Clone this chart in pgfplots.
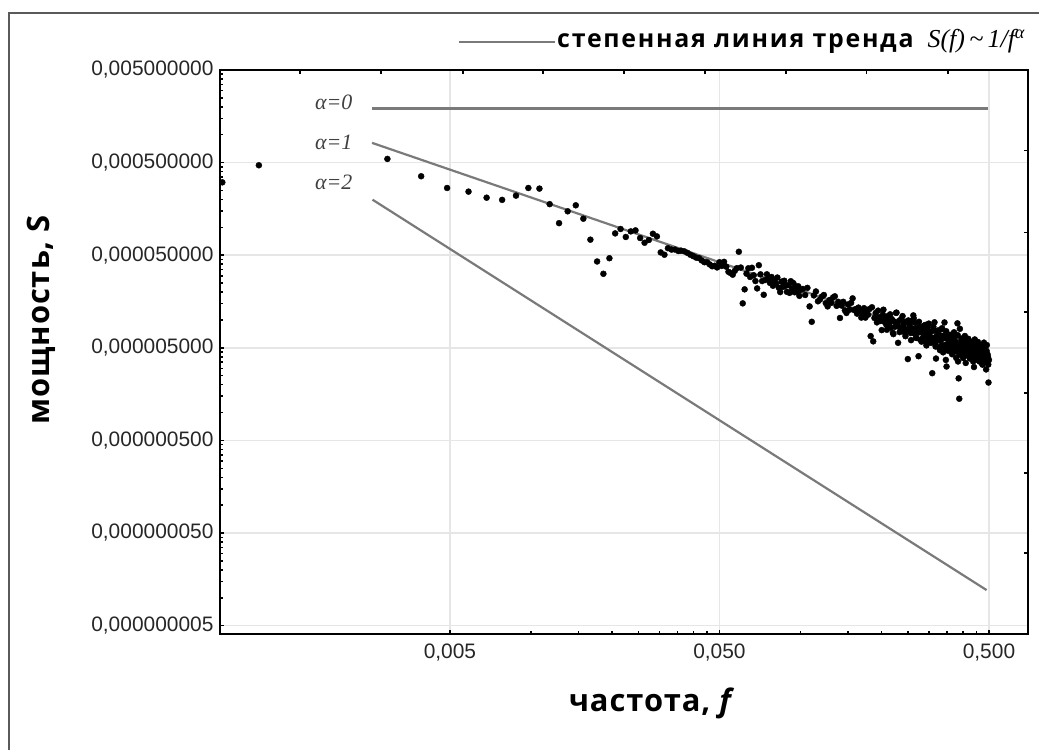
\documentclass[border=0pt]{standalone}
\usepackage{fontspec}
\usepackage{pgfplots}
\usepackage{pgfplotstable}
\pgfplotsset{compat=1.18}
\setmainfont{Liberation Sans}
\newfontfamily\labfont{Open Sans}[LetterSpace=3]
\newfontfamily\legfont{Open Sans}[LetterSpace=7]
\newfontfamily\tnr{Liberation Serif}
\definecolor{trend}{RGB}{122,122,122}
\definecolor{gridc}{RGB}{230,230,230}
\definecolor{framec}{RGB}{90,90,90}

\pgfplotstableread{
f S
0.000715 3.06e-4
0.000977 4.68e-4
0.00293 5.48e-4
0.00391 3.56e-4
0.00488 2.66e-4
0.00586 2.43e-4
0.00684 2.09e-4
0.00781 1.98e-4
0.00879 2.20e-4
0.00977 2.66e-4
0.01074 2.62e-4
0.01172 1.78e-4
0.0127 1.11e-4
0.01367 1.49e-4
0.01465 1.73e-4
0.01563 1.24e-4
0.0166 7.36e-5
0.01758 4.28e-5
0.01855 3.15e-5
0.01953 4.64e-5
0.02051 8.60e-5
0.02148 9.60e-5
0.02246 7.87e-5
0.02344 9.04e-5
0.02441 9.27e-5
0.02539 7.67e-5
0.02637 6.82e-5
0.02734 7.30e-5
0.02832 8.53e-5
0.0293 7.98e-5
0.03027 5.36e-5
0.03125 5.06e-5
0.0322 5.95e-5
0.0332 5.75e-5
0.0342 5.75e-5
0.0352 5.55e-5
0.036 5.60e-5
0.037 5.51e-5
0.038 5.31e-5
0.039 5.06e-5
0.040 4.88e-5
0.041 4.71e-5
0.042 4.65e-5
0.043 4.39e-5
0.044 4.20e-5
0.045 4.20e-5
0.046 3.98e-5
0.047 3.80e-5
0.048 3.85e-5
0.049 3.69e-5
0.050 4.20e-5
0.051 3.83e-5
0.052 4.24e-5
0.053 3.76e-5
0.054 3.31e-5
0.055 3.21e-5
0.056 3.08e-5
0.057 3.39e-5
0.058 3.62e-5
0.059 5.45e-5
0.060 3.68e-5
0.061 1.51e-5
0.062 2.14e-5
0.063 3.16e-5
0.064 3.61e-5
0.065 2.91e-5
0.066 3.66e-5
0.067 3.04e-5
0.068 2.63e-5
0.069 2.19e-5
0.070 3.90e-5
0.071 3.11e-5
0.072 2.63e-5
0.073 1.87e-5
0.074 2.70e-5
0.075 3.11e-5
0.076 2.76e-5
0.077 2.51e-5
0.078 2.91e-5
0.079 2.34e-5
0.080 2.63e-5
0.081 2.46e-5
0.082 2.87e-5
0.083 2.23e-5
0.084 2.00e-5
0.085 2.59e-5
0.086 2.27e-5
0.087 2.65e-5
0.088 2.34e-5
0.089 2.01e-5
0.090 2.38e-5
0.091 1.96e-5
0.092 2.62e-5
0.093 2.17e-5
0.094 2.50e-5
0.095 1.99e-5
0.096 2.30e-5
0.097 2.03e-5
0.098 2.31e-5
0.099 1.82e-5
0.100 2.10e-5
0.102 21.6e-6
0.104 18.6e-6
0.106 22.2e-6
0.108 14.0e-6
0.110 9.55e-6
0.112 18.4e-6
0.114 20.3e-6
0.116 15.9e-6
0.118 16.6e-6
0.120 17.9e-6
0.122 18.6e-6
0.124 15.2e-6
0.126 14.0e-6
0.128 16.4e-6
0.130 15.3e-6
0.132 17.5e-6
0.134 18.0e-6
0.136 14.2e-6
0.138 15.7e-6
0.140 10.5e-6
0.142 14.3e-6
0.144 15.7e-6
0.146 12.7e-6
0.148 11.9e-6
0.150 14.7e-6
0.152 12.9e-6
0.154 15.3e-6
0.156 17.1e-6
0.158 12.8e-6
0.160 13.1e-6
0.162 11.7e-6
0.164 13.6e-6
0.166 12.9e-6
0.168 10.6e-6
0.170 11.7e-6
0.172 13.4e-6
0.174 10.6e-6
0.176 12.5e-6
0.178 11.4e-6
0.180 13.1e-6
0.182 6.69e-6
0.184 13.7e-6
0.186 5.87e-6
0.188 10.5e-6
0.190 11.9e-6
0.192 9.41e-6
0.194 12.6e-6
0.196 10.7e-6
0.198 9.76e-6
0.200 7.77e-6
0.202 11.4e-6
0.204 9.57e-6
0.206 10.6e-6
0.208 8.89e-6
0.210 10.0e-6
0.212 11.1e-6
0.214 9.32e-6
0.216 8.26e-6
0.218 10.2e-6
0.220 7.26e-6
0.222 9.65e-6
0.224 8.44e-6
0.226 11.9e-6
0.228 9.03e-6
0.230 5.66e-6
0.232 9.77e-6
0.234 8.25e-6
0.236 10.2e-6
0.238 7.67e-6
0.240 8.49e-6
0.242 9.11e-6
0.244 7.23e-6
0.246 9.56e-6
0.248 7.88e-6
0.250 3.78e-6
0.252 7.91e-6
0.254 8.93e-6
0.256 7.22e-6
0.258 9.77e-6
0.260 8.08e-6
0.262 11.2e-6
0.264 7.16e-6
0.266 9.31e-6
0.268 6.43e-6
0.270 8.17e-6
0.272 7.26e-6
0.274 4.06e-6
0.276 8.37e-6
0.278 6.12e-6
0.280 7.35e-6
0.282 8.34e-6
0.284 6.36e-6
0.286 7.49e-6
0.288 6.71e-6
0.290 8.83e-6
0.292 5.75e-6
0.294 7.57e-6
0.296 8.22e-6
0.298 6.35e-6
0.300 6.79e-6
0.302 6.12e-6
0.304 7.46e-6
0.306 6.45e-6
0.308 2.66e-6
0.310 6.09e-6
0.312 7.67e-6
0.314 9.43e-6
0.316 5.59e-6
0.318 3.83e-6
0.320 6.76e-6
0.322 6.00e-6
0.324 7.65e-6
0.326 5.09e-6
0.328 6.78e-6
0.330 6.04e-6
0.332 7.91e-6
0.334 5.35e-6
0.336 6.25e-6
0.338 4.47e-6
0.340 6.80e-6
0.342 9.39e-6
0.344 5.37e-6
0.346 3.70e-6
0.348 3.14e-6
0.350 6.30e-6
0.352 5.55e-6
0.354 6.88e-6
0.356 4.84e-6
0.358 5.64e-6
0.360 6.30e-6
0.362 5.22e-6
0.364 6.92e-6
0.366 4.48e-6
0.368 5.82e-6
0.370 5.34e-6
0.372 6.33e-6
0.374 4.82e-6
0.376 5.81e-6
0.378 3.89e-6
0.380 5.36e-6
0.382 9.19e-6
0.384 3.56e-6
0.386 2.34e-6
0.388 1.41e-6
0.390 8.02e-6
0.392 4.93e-6
0.394 5.86e-6
0.396 4.45e-6
0.398 5.28e-6
0.400 6.20e-6
0.402 4.59e-6
0.404 5.51e-6
0.406 4.91e-6
0.408 4.12e-6
0.410 3.43e-6
0.412 5.81e-6
0.414 4.61e-6
0.416 5.15e-6
0.418 4.32e-6
0.420 6.10e-6
0.422 4.68e-6
0.424 5.35e-6
0.426 3.85e-6
0.428 4.91e-6
0.430 4.39e-6
0.432 5.64e-6
0.434 4.07e-6
0.436 5.06e-6
0.438 4.60e-6
0.440 3.10e-6
0.442 5.23e-6
0.444 4.16e-6
0.446 4.80e-6
0.448 4.36e-6
0.450 5.14e-6
0.452 3.72e-6
0.454 5.56e-6
0.456 4.24e-6
0.458 4.77e-6
0.460 3.93e-6
0.462 4.55e-6
0.464 5.07e-6
0.466 3.74e-6
0.468 4.31e-6
0.470 4.74e-6
0.472 3.38e-6
0.474 5.05e-6
0.476 3.97e-6
0.478 4.39e-6
0.480 4.99e-6
0.482 3.84e-6
0.484 4.56e-6
0.486 3.97e-6
0.488 2.92e-6
0.490 4.63e-6
0.492 3.63e-6
0.494 4.25e-6
0.496 3.98e-6
0.498 2.11e-6
0.500 3.70e-6
0.203 12.9e-6
0.209 7.84e-6
0.215 11.5e-6
0.221 7.03e-6
0.227 12.0e-6
0.233 7.39e-6
0.239 11.0e-6
0.245 6.68e-6
0.251 9.88e-6
0.257 6.05e-6
0.263 10.4e-6
0.269 6.40e-6
0.275 9.55e-6
0.281 5.83e-6
0.287 8.64e-6
0.293 5.31e-6
0.299 9.13e-6
0.305 5.65e-6
0.311 8.44e-6
0.317 5.16e-6
0.323 7.67e-6
0.329 4.72e-6
0.335 8.15e-6
0.341 5.05e-6
0.347 7.56e-6
0.353 4.64e-6
0.359 6.90e-6
0.365 4.26e-6
0.371 7.36e-6
0.377 4.57e-6
0.383 6.85e-6
0.389 4.21e-6
0.395 6.28e-6
0.401 3.88e-6
0.407 6.71e-6
0.413 4.17e-6
0.419 6.26e-6
0.425 3.85e-6
0.431 5.75e-6
0.437 3.56e-6
0.443 6.16e-6
0.449 3.84e-6
0.455 5.78e-6
0.461 3.56e-6
0.467 5.31e-6
0.473 3.29e-6
0.479 5.69e-6
0.485 3.55e-6
0.491 5.35e-6
0.497 3.30e-6
}\spectrum

\begin{document}
\begin{tikzpicture}
\useasboundingbox (0,0) rectangle (1039bp,750bp);
\draw[framec, line width=1.3bp] (9bp,-10bp) -- (9bp,737bp) -- (1050bp,737bp);
\begin{axis}[
  at={(220bp,116bp)}, anchor=south west,
  width=808bp, height=564bp, scale only axis,
  xmode=log, ymode=log,
  xmin=7.01e-4, xmax=0.698, ymin=4.06e-9, ymax=5e-3,
  xtick={0.005,0.05,0.5}, xticklabels={{0,005},{0,050},{0,500}},
  ytick={5e-9,5e-8,5e-7,5e-6,5e-5,5e-4,5e-3},
  yticklabels={{0,000000005},{0,000000050},{0,000000500},{0,000005000},{0,000050000},{0,000500000},{0,005000000}},
  minor xtick={}, minor ytick={},
  tick pos=left, tick align=inside,
  major tick length=4bp,
  tick style={black, line width=1.5bp},
  xmajorgrids=true, ymajorgrids=true,
  major grid style={gridc, line width=1.6bp},
  axis line style={black, line width=2bp},
  tick label style={font=\fontsize{21}{21}\selectfont, text=black!85},
  yticklabel style={xshift=-3bp},
  xticklabel style={yshift=-6bp},
  xlabel={\bfseries частота, \itshape f},
  ylabel={\bfseries мощность, S},
  label style={font=\labfont\fontsize{31}{31}\selectfont},
  xlabel style={at={(axis description cs:0.532,-0.138)}, anchor=base},
  ylabel style={at={(axis description cs:-0.2104,0.557)}, anchor=base},
]
\addplot[only marks, mark=*, mark size=3bp, black] table[x=f, y=S] {\spectrum};
\addplot[trend, line width=2.2bp] coordinates {(2.57e-3,1.918e-3) (0.4955,1.918e-3)};
\addplot[trend, line width=2.2bp] coordinates {(2.57e-3,8.17e-4) (0.4955,4.24e-6)};
\addplot[trend, line width=2.2bp] coordinates {(2.58e-3,1.99e-4) (0.490,1.21e-8)};
\node[anchor=base west, inner sep=0pt, text=black!75, font=\tnr\itshape\fontsize{22}{22}\selectfont] at (axis cs:1.578e-3,1.87e-3) {α=0};
\node[anchor=base west, inner sep=0pt, text=black!75, font=\tnr\itshape\fontsize{22}{22}\selectfont] at (axis cs:1.578e-3,6.91e-4) {α=1};
\node[anchor=base west, inner sep=0pt, text=black!75, font=\tnr\itshape\fontsize{22}{22}\selectfont] at (axis cs:1.578e-3,2.553e-4) {α=2};
\end{axis}
\begin{axis}[
  at={(220bp,116bp)}, anchor=south west,
  width=808bp, height=564bp, scale only axis,
  xmode=log, ymode=log,
  xmin=7.01e-4, xmax=0.698, ymin=4.06e-9, ymax=5e-3,
  xtick={1.387e-3,2.77e-3,5.58e-3,0.01107,0.0221,0.0442,0.0883,0.176,0.352},
  ytick={3.04e-8,2.23e-7,1.63e-6,1.22e-5,8.75e-5,6.74e-4},
  xticklabels={}, yticklabels={},
  ticklabel style={text opacity=0, font=\tiny},
  minor xtick={}, minor ytick={},
  xtick pos=right, ytick pos=right, tick align=inside,
  major tick length=4bp,
  tick style={black, line width=1.5bp},
  axis line style={black, line width=2bp},
]
\end{axis}
\draw[trend, line width=2bp] (459bp,708bp) -- (555bp,708bp);
\node[anchor=base west, inner sep=0pt] at (557bp,702bp) {\legfont\bfseries\fontsize{25}{25}\selectfont степенная линия тренда\hspace{14bp}{\tnr\mdseries\itshape\fontsize{26}{26}\selectfont S(f)\,\textasciitilde\,1/f\textsuperscript{α}}};
\end{tikzpicture}
\end{document}
